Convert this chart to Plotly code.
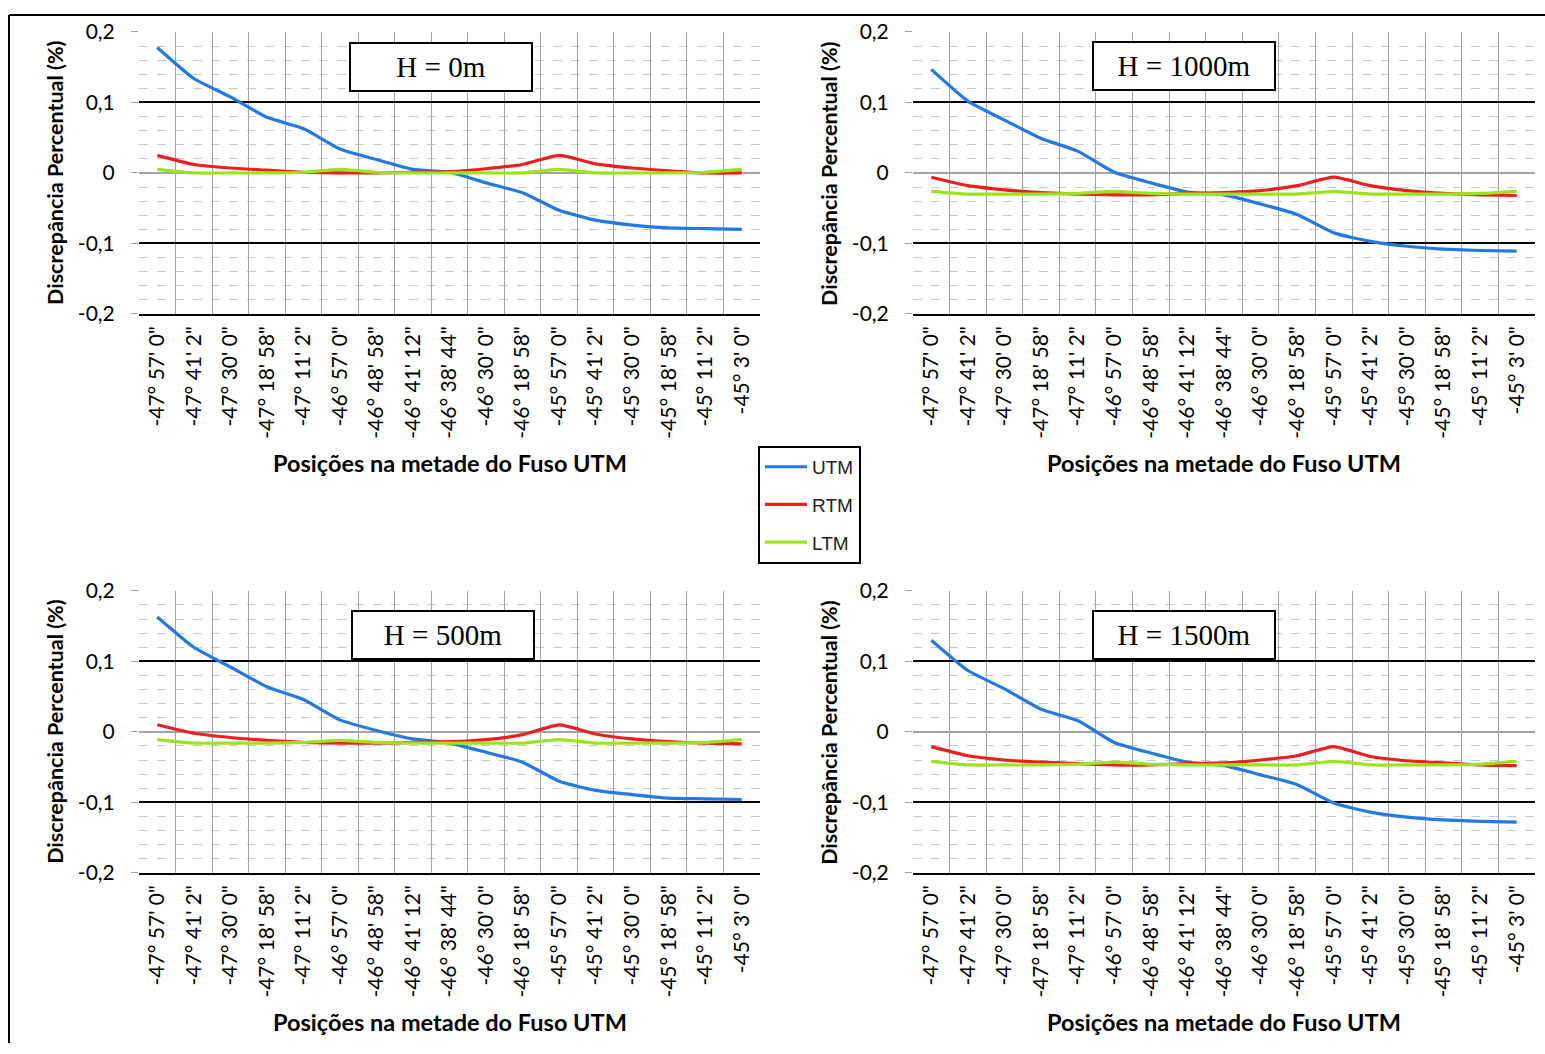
import plotly.graph_objects as go

# ---------------- data ----------------
categories = ["-47° 57' 0\"", "-47° 41' 2\"", "-47° 30' 0\"", "-47° 18' 58\"", "-47° 11' 2\"",
              "-46° 57' 0\"", "-46° 48' 58\"", "-46° 41' 12\"", "-46° 38' 44\"", "-46° 30' 0\"",
              "-46° 18' 58\"", "-45° 57' 0\"", "-45° 41' 2\"", "-45° 30' 0\"", "-45° 18' 58\"",
              "-45° 11' 2\"", "-45° 3' 0\""]

utm_h0 = [0.178, 0.134, 0.108, 0.079, 0.063, 0.034, 0.019, 0.005, 0.001, -0.014, -0.028,
          -0.053, -0.067, -0.074, -0.078, -0.079, -0.080]
rtm_h0 = [0.025, 0.012, 0.007, 0.004, 0.001, 0.000, 0.000, 0.001, 0.002, 0.006, 0.012,
          0.025, 0.013, 0.007, 0.003, 0.000, 0.000]
ltm_h0 = [0.005, 0.000, 0.000, 0.000, 0.001, 0.005, 0.001, 0.000, 0.000, 0.000, 0.000,
          0.005, 0.000, 0.000, 0.000, 0.001, 0.005]

utm_h1000 = [0.147, 0.102, 0.075, 0.049, 0.031, 0.001, -0.014, -0.027, -0.031, -0.044, -0.059,
             -0.085, -0.097, -0.104, -0.108, -0.110, -0.111]
rtm_h1000 = [-0.006, -0.018, -0.024, -0.028, -0.030, -0.031, -0.031, -0.029, -0.028, -0.025, -0.018,
             -0.006, -0.018, -0.025, -0.029, -0.031, -0.032]
ltm_h1000 = [-0.026, -0.030, -0.030, -0.030, -0.029, -0.026, -0.029, -0.030, -0.030, -0.030, -0.030,
             -0.026, -0.030, -0.030, -0.030, -0.029, -0.026]

utm_h500 = [0.163, 0.120, 0.092, 0.064, 0.046, 0.017, 0.002, -0.010, -0.016, -0.029, -0.043,
            -0.070, -0.083, -0.089, -0.094, -0.095, -0.096]
rtm_h500 = [0.010, -0.002, -0.008, -0.012, -0.015, -0.016, -0.016, -0.015, -0.014, -0.011, -0.004,
            0.010, -0.003, -0.010, -0.014, -0.016, -0.017]
ltm_h500 = [-0.011, -0.016, -0.016, -0.016, -0.015, -0.012, -0.015, -0.016, -0.016, -0.016, -0.016,
            -0.011, -0.016, -0.016, -0.016, -0.015, -0.011]

utm_h1500 = [0.130, 0.087, 0.061, 0.032, 0.016, -0.015, -0.030, -0.043, -0.048, -0.061, -0.075,
             -0.101, -0.114, -0.121, -0.125, -0.127, -0.128]
rtm_h1500 = [-0.021, -0.034, -0.040, -0.043, -0.045, -0.047, -0.047, -0.045, -0.044, -0.040, -0.034,
             -0.021, -0.035, -0.041, -0.044, -0.047, -0.048]
ltm_h1500 = [-0.042, -0.047, -0.047, -0.047, -0.046, -0.043, -0.046, -0.047, -0.047, -0.047, -0.047,
             -0.042, -0.047, -0.047, -0.047, -0.046, -0.042]

panel_titles = ["H = 0m", "H = 1000m", "H = 500m", "H = 1500m"]
series_names = ["UTM", "RTM", "LTM"]
series_colors = ["#2279E6", "#EC1E1E", "#9BE31D"]
y_tickvals = [-0.2, -0.1, 0, 0.1, 0.2]
y_ticktext = ["-0,2", "-0,1", "0", "0,1", "0,2"]
x_title = "Posições na metade do Fuso UTM"
y_title = "Discrepância Percentual (%)"

panels = [
    (utm_h0, rtm_h0, ltm_h0),
    (utm_h1000, rtm_h1000, ltm_h1000),
    (utm_h500, rtm_h500, ltm_h500),
    (utm_h1500, rtm_h1500, ltm_h1500),
]

# ---------------- layout geometry (target pixels) ----------------
W, H = 1545, 1054
plot_boxes = [  # left, right, top, bottom
    (139, 760, 31, 313),
    (913, 1535, 31, 313),
    (139, 760, 590, 872),
    (913, 1535, 590, 872),
]
label_boxes = [(441, 66), (1184, 65), (443, 634), (1184, 634)]

# vertical placement correction observed in the rendered photograph
Y_OFF, Y_SCALE = 13.0, 0.9765

def px_x(v):
    return v / W

def px_y(v):
    page = (v - Y_OFF) / Y_SCALE
    return min(1.0, max(0.0, 1 - page / H))

fig = go.Figure()

tick_font = dict(family="Lato, Open Sans, sans-serif", size=21, color="black")

annotations = []
for i, (series, box, lab) in enumerate(zip(panels, plot_boxes, label_boxes)):
    n = "" if i == 0 else str(i + 1)
    for s, (vals, name, col) in enumerate(zip(series, series_names, series_colors)):
        fig.add_trace(go.Scatter(
            x=categories, y=vals, mode="lines", name=name,
            line=dict(color=col, width=3.2, shape="spline", smoothing=0.5),
            xaxis="x" + n, yaxis="y" + n,
            legendgroup=name, showlegend=(i == 0),
        ))
    l, r, t, b = box
    fig.layout["xaxis" + n] = dict(
        domain=[px_x(l), px_x(r)], anchor="y" + n, type="category",
        range=[-0.5, 16.5], tickson="boundaries", showgrid=True,
        gridcolor="#a3a3a3", gridwidth=1.3, tickangle=-90,
        ticks="", ticklabelstandoff=2, tickfont=tick_font,
        showline=True, linecolor="black", linewidth=2, zeroline=False,
    )
    fig.layout["yaxis" + n] = dict(
        domain=[px_y(b), px_y(t)], anchor="x" + n, range=[-0.2, 0.2],
        tickvals=y_tickvals, ticktext=y_ticktext, tickfont=tick_font,
        showgrid=True, gridcolor="black", gridwidth=1.6,
        zeroline=True, zerolinecolor="#a3a3a3", zerolinewidth=1.6,
        ticks="outside", ticklen=7, tickcolor="#a3a3a3", tickwidth=1.3,
        ticklabelstandoff=12, showline=False,
        minor=dict(dtick=0.02, showgrid=True, griddash="dash",
                   gridcolor="#c9c9c9", gridwidth=1, ticks=""),
    )
    # panel label box
    annotations.append(dict(
        x=px_x(lab[0]), y=px_y(lab[1]), xref="paper", yref="paper",
        text=panel_titles[i], showarrow=False,
        font=dict(family="Liberation Serif, serif", size=29, color="black"),
        bgcolor="white", bordercolor="black", borderwidth=2,
        width=178, height=44, xanchor="center", yanchor="middle",
    ))
    # axis titles
    annotations.append(dict(
        x=px_x((l + r) / 2), y=px_y(b + 149), xref="paper", yref="paper",
        text="<b>" + x_title + "</b>", showarrow=False,
        font=dict(family="Lato, Open Sans, sans-serif", size=23.5, color="black"),
        xanchor="center", yanchor="middle",
    ))
    annotations.append(dict(
        x=px_x(l - 84), y=px_y((t + b) / 2), xref="paper", yref="paper",
        text="<b>" + y_title + "</b>", showarrow=False,
        font=dict(family="Lato, Open Sans, sans-serif", size=21.5, color="black"),
        textangle=-90, xanchor="center", yanchor="middle",
    ))

top_border = px_y(6) - 1.0 / H

fig.update_layout(
    width=W, height=H, autosize=False,
    margin=dict(l=0, r=0, t=0, b=0),
    paper_bgcolor="white", plot_bgcolor="white",
    annotations=annotations,
    showlegend=True,
    legend=dict(
        x=px_x(758), y=px_y(445), xanchor="left", yanchor="top",
        bgcolor="white", bordercolor="black", borderwidth=2,
        font=dict(family="Liberation Sans, Arial, sans-serif", size=19, color="#222"),
        tracegroupgap=10, itemwidth=42,
    ),
    shapes=[
        dict(type="line", xref="paper", yref="paper", x0=px_x(9), x1=px_x(9),
             y0=top_border, y1=0, line=dict(color="black", width=2)),
        dict(type="line", xref="paper", yref="paper", x0=px_x(9), x1=1,
             y0=top_border, y1=top_border, line=dict(color="black", width=2)),
    ],
)

fig.write_html(
    "out.html",
    config={"displayModeBar": False},
    post_script=(
        "document.body.style.margin='0';document.body.style.padding='0';"
    ),
)
